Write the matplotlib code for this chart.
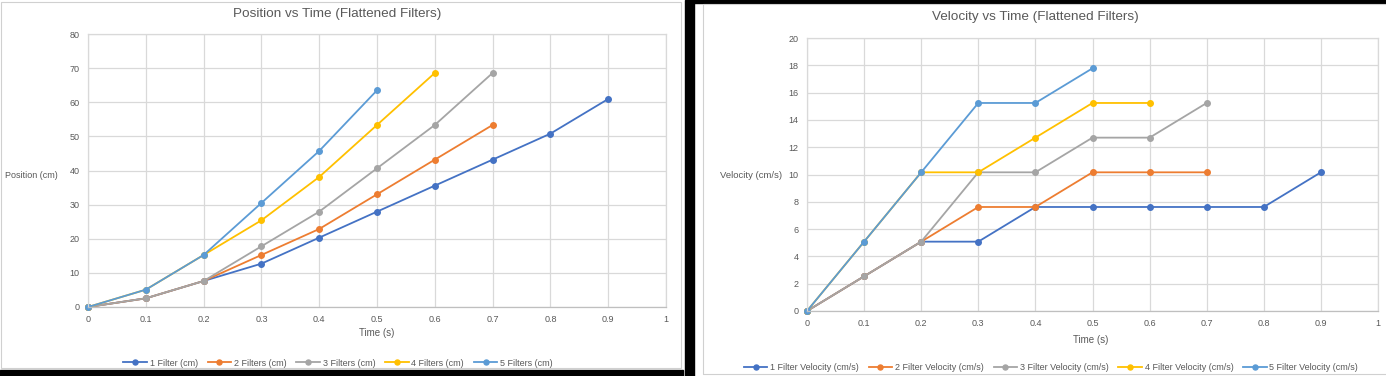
import matplotlib
matplotlib.use('Agg')
import matplotlib.pyplot as plt
from matplotlib.patches import Rectangle

plt.rcParams['font.family'] = ['Liberation Sans Narrow', 'Liberation Sans', 'DejaVu Sans']

# time axis (s)
time = [0, 0.1, 0.2, 0.3, 0.4, 0.5, 0.6, 0.7, 0.8, 0.9]

# position (cm) for each number of flattened filters
pos_1 = [0, 2.54, 7.62, 12.7, 20.32, 27.94, 35.56, 43.18, 50.8, 60.96]
pos_2 = [0, 2.54, 7.62, 15.24, 22.86, 33.02, 43.18, 53.34]
pos_3 = [0, 2.54, 7.62, 17.78, 27.94, 40.64, 53.34, 68.58]
pos_4 = [0, 5.08, 15.24, 25.4, 38.1, 53.34, 68.58]
pos_5 = [0, 5.08, 15.24, 30.48, 45.72, 63.5]

# velocity (cm/s)
vel_1 = [0, 2.54, 5.08, 5.08, 7.62, 7.62, 7.62, 7.62, 7.62, 10.16]
vel_2 = [0, 2.54, 5.08, 7.62, 7.62, 10.16, 10.16, 10.16]
vel_3 = [0, 2.54, 5.08, 10.16, 10.16, 12.7, 12.7, 15.24]
vel_4 = [0, 5.08, 10.16, 10.16, 12.7, 15.24, 15.24]
vel_5 = [0, 5.08, 10.16, 15.24, 15.24, 17.78]

pos_labels = ['1 Filter (cm)', '2 Filters (cm)', '3 Filters (cm)', '4 Filters (cm)', '5 Filters (cm)']
vel_labels = ['1 Filter Velocity (cm/s)', '2 Filter Velocity (cm/s)', '3 Filter Velocity (cm/s)',
              '4 Filter Velocity (cm/s)', '5 Filter Velocity (cm/s)']
colors = ['#4472C4', '#ED7D31', '#A5A5A5', '#FFC000', '#5B9BD5']

W, H = 1386, 376
TXT = '#595959'
GRID = '#d9d9d9'


def fx(px):
    return px / W


def fy(py):
    return 1 - py / H


fig = plt.figure(figsize=(W / 100, H / 100), dpi=100)
fig.patch.set_facecolor('white')

# screenshot frame: black separators and thin panel borders
for x0, y0, x1, y1, c in [(0, 370, 683, 376, 'black'), (685, 0, 694, 376, 'black'),
                          (694, 0, 1386, 3, 'black')]:
    fig.patches.append(Rectangle((fx(x0), fy(y1)), fx(x1 - x0), (y1 - y0) / H,
                                 transform=fig.transFigure, color=c, zorder=0))
fig.patches.append(Rectangle((fx(1), fy(368)), fx(680), 366 / H, transform=fig.transFigure,
                             fill=False, edgecolor='#d0d0d0', lw=0.8, zorder=1))
fig.patches.append(Rectangle((fx(703), fy(374)), fx(690), 370 / H, transform=fig.transFigure,
                             fill=False, edgecolor='#d0d0d0', lw=0.8, zorder=1))


def setup(ax, ymax, ystep):
    ax.set_xlim(0, 1)
    ax.set_ylim(0, ymax)
    ax.set_xticks([i / 10 for i in range(11)])
    ax.set_xticklabels(['0'] + ['0.%d' % i for i in range(1, 10)] + ['1'])
    ax.set_yticks(range(0, ymax + 1, ystep))
    ax.grid(True, color=GRID, lw=0.9)
    ax.set_axisbelow(True)
    for s in ax.spines.values():
        s.set_color(GRID)
        s.set_linewidth(0.9)
    ax.spines['bottom'].set_color('#bfbfbf')
    ax.tick_params(length=0, labelsize=6.5, colors=TXT, pad=6)


# Position chart
ax1 = fig.add_axes([fx(88), fy(307), fx(666 - 88), (307 - 34) / H])
setup(ax1, 80, 10)
pos_series = [pos_1, pos_2, pos_3, pos_4, pos_5]
for p, c, lab in zip(pos_series, colors, pos_labels):
    ax1.plot(time[:len(p)], p, color=c, lw=1.3, marker='o', ms=4, label=lab, clip_on=False)
fig.text(fx(337), fy(14), 'Position vs Time (Flattened Filters)', ha='center', va='center',
         fontsize=9.7, color=TXT)
fig.text(fx(377), fy(333), 'Time (s)', ha='center', va='center', fontsize=7, color=TXT)
fig.text(fx(31), fy(175), 'Position (cm)', ha='center', va='center', fontsize=6.5, color=TXT)
fig.legend(handles=ax1.get_lines(), labels=pos_labels, loc='center', ncol=5,
           bbox_to_anchor=(fx(338), fy(363)), frameon=False, fontsize=6.5, labelcolor=TXT,
           handlelength=2.6, columnspacing=1.1, handletextpad=0.3, markerscale=0.9)

# Velocity chart
ax2 = fig.add_axes([fx(807), fy(311), fx(1378 - 807), (311 - 38) / H])
setup(ax2, 20, 2)
vel_series = [vel_1, vel_2, vel_3, vel_4, vel_5]
for v, c, lab in zip(vel_series, colors, vel_labels):
    ax2.plot(time[:len(v)], v, color=c, lw=1.3, marker='o', ms=4, label=lab, clip_on=False)
fig.text(fx(1035), fy(17), 'Velocity vs Time (Flattened Filters)', ha='center', va='center',
         fontsize=9.7, color=TXT)
fig.text(fx(1091), fy(340), 'Time (s)', ha='center', va='center', fontsize=7, color=TXT)
fig.text(fx(751), fy(176), 'Velocity (cm/s)', ha='center', va='center', fontsize=6.8, color=TXT)
fig.legend(handles=ax2.get_lines(), labels=vel_labels, loc='center', ncol=5,
           bbox_to_anchor=(fx(1051), fy(368)), frameon=False, fontsize=6.5, labelcolor=TXT,
           handlelength=2.6, columnspacing=1.1, handletextpad=0.3, markerscale=0.9)

fig.savefig('out.png', dpi=100, facecolor='white')
